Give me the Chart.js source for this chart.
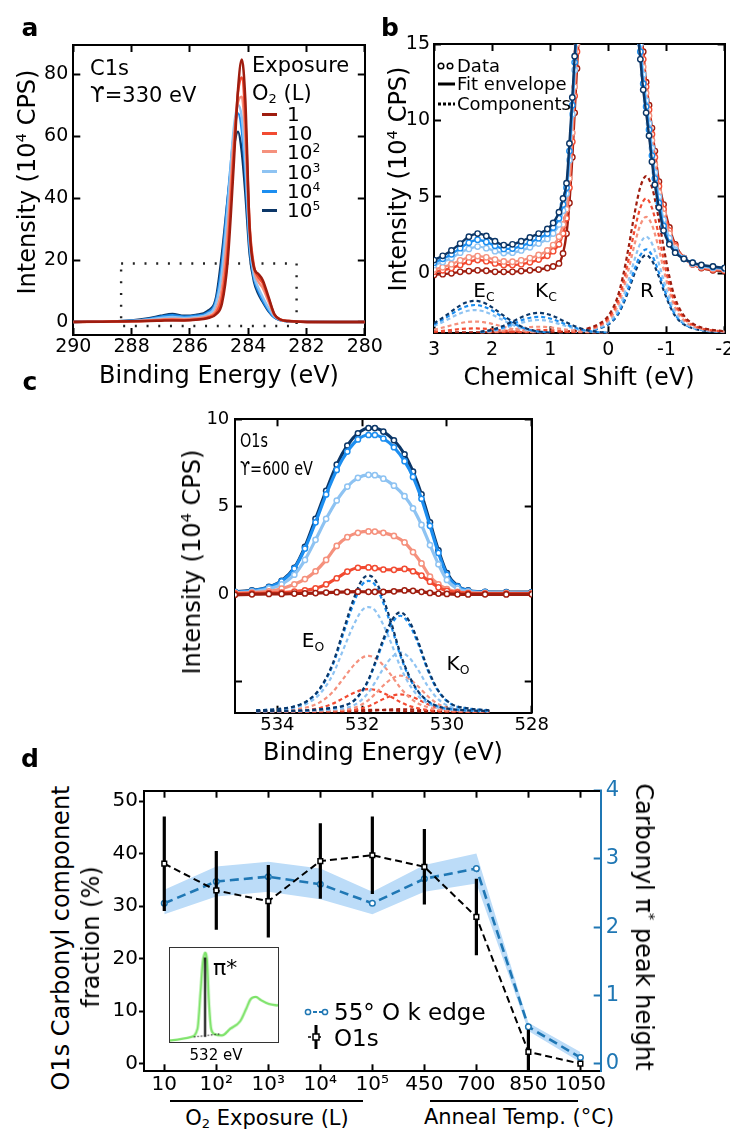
<!DOCTYPE html>
<html><head><meta charset="utf-8">
<script src="https://cdn.jsdelivr.net/npm/chart.js@4.4.1/dist/chart.umd.min.js"></script>
<style>
html,body{margin:0;padding:0;background:#fff;}
#root{position:relative;width:730px;height:1131px;overflow:hidden;font-family:'DejaVu Sans',sans-serif;color:#000;background:#fff;}
canvas{position:absolute;}
.t{position:absolute;white-space:nowrap;line-height:1;}
.c{transform:translate(-50%,-50%);}
.l{transform:translate(0,-50%);}
.rl{transform:translate(-50%,-50%) rotate(-90deg);}
.rr{transform:translate(-50%,-50%) rotate(90deg);}
.pl{font-weight:bold;font-size:25px;}
.ax{font-size:24px;}
sup{font-size:0.62em;vertical-align:0.6em;line-height:0;}
sub{font-size:0.62em;vertical-align:-0.3em;line-height:0;}
.ln{position:absolute;height:0;}
</style></head>
<body><div id="root">
<canvas id="ca" width="390" height="390" style="left:0;top:0"></canvas>
<canvas id="cb" width="360" height="390" style="left:370px;top:0"></canvas>
<canvas id="cc" width="400" height="350" style="left:150px;top:390px"></canvas>
<canvas id="cd" width="560" height="330" style="left:100px;top:770px"></canvas>
<canvas id="ci" width="110" height="96" style="left:169px;top:947px;border:1.5px solid #333"></canvas>

<!-- panel a text -->
<div class="t c pl" style="left:30px;top:27px">a</div>
<div class="t rl ax" style="left:27px;top:182px">Intensity (10<sup>4</sup> CPS)</div>
<div class="t c ax" style="left:219px;top:375px">Binding Energy (eV)</div>
<div class="t l" style="left:90px;top:68px;font-size:21px">C1s</div>
<div class="t l" style="left:90px;top:95px;font-size:21px">ϒ=330 eV</div>
<div class="t l" style="left:252px;top:65px;font-size:21px">Exposure</div>
<div class="t l" style="left:252px;top:93px;font-size:21px">O<sub>2</sub> (L)</div>
<div id="aleg"></div>

<!-- panel b text -->
<div class="t c pl" style="left:390px;top:27px">b</div>
<div class="t rl ax" style="left:398px;top:179px">Intensity (10<sup>4</sup> CPS)</div>
<div class="t c ax" style="left:579px;top:377px">Chemical Shift (eV)</div>
<svg style="position:absolute;left:436px;top:58px" width="22" height="54">
<circle cx="5" cy="8" r="2.8" fill="#fff" stroke="#000" stroke-width="1.5"/>
<circle cx="14" cy="8" r="2.8" fill="#fff" stroke="#000" stroke-width="1.5"/>
<line x1="2" y1="26" x2="19" y2="26" stroke="#000" stroke-width="3"/>
<line x1="2" y1="46" x2="19" y2="46" stroke="#000" stroke-width="3" stroke-dasharray="3,2"/>
</svg>
<div class="t l" style="left:457px;top:66px;font-size:18px">Data</div>
<div class="t l" style="left:457px;top:84px;font-size:18px">Fit envelope</div>
<div class="t l" style="left:457px;top:104px;font-size:18px">Components</div>
<div class="t c" style="left:484px;top:290px;font-size:20px">E<sub>C</sub></div>
<div class="t c" style="left:546px;top:290px;font-size:20px">K<sub>C</sub></div>
<div class="t c" style="left:647px;top:290px;font-size:20px">R</div>

<!-- panel c text -->
<div class="t c pl" style="left:30px;top:381px">c</div>
<div class="t rl ax" style="left:192px;top:562px">Intensity (10<sup>4</sup> CPS)</div>
<div class="t c ax" style="left:383px;top:752px">Binding Energy (eV)</div>
<div class="t" style="left:240px;top:430px;font-size:20px;transform:scaleX(0.72);transform-origin:left top">O1s</div>
<div class="t" style="left:240px;top:458px;font-size:20px;transform:scaleX(0.72);transform-origin:left top">ϒ=600 eV</div>
<div class="t c" style="left:313px;top:640px;font-size:20px">E<sub>O</sub></div>
<div class="t c" style="left:458px;top:663px;font-size:20px">K<sub>O</sub></div>

<!-- panel d text -->
<div class="t c pl" style="left:30px;top:758px">d</div>
<div class="t rl ax" style="left:61px;top:938px">O1s Carbonyl component</div>
<div class="t rl ax" style="left:91px;top:937px">fraction (%)</div>
<div class="t rr ax" style="left:644px;top:927px">Carbonyl π<sup>*</sup> peak height</div>
<svg style="position:absolute;left:302px;top:998px" width="30" height="54">
<line x1="5" y1="14" x2="24" y2="14" stroke="#1f77b4" stroke-width="2" stroke-dasharray="4,2"/>
<circle cx="6" cy="14" r="2.6" fill="#fff" stroke="#1f77b4" stroke-width="1.5"/>
<circle cx="23" cy="14" r="2.6" fill="#fff" stroke="#1f77b4" stroke-width="1.5"/>
<line x1="6" y1="39" x2="20" y2="39" stroke="#000" stroke-width="1.6" stroke-dasharray="3,2"/>
<line x1="14" y1="27" x2="14" y2="51" stroke="#000" stroke-width="3"/>
<rect x="11" y="36" width="6" height="6" fill="#fff" stroke="#000" stroke-width="1.5"/>
</svg>
<div class="t l" style="left:334px;top:1012px;font-size:23px">55° O k edge</div>
<div class="t l" style="left:334px;top:1038px;font-size:23px">O1s</div>
<div class="ln" style="left:170px;top:1100px;width:193px;border-top:2px solid #000"></div>
<div class="ln" style="left:430px;top:1100px;width:148px;border-top:2px solid #000"></div>
<div class="t c" style="left:267px;top:1118px;font-size:21px">O<sub>2</sub> Exposure (L)</div>
<div class="t c" style="left:519px;top:1117px;font-size:21px">Anneal Temp. (°C)</div>
<div class="t l" style="left:213px;top:968px;font-size:22px">π*</div>
<div class="t c" style="left:216px;top:1055px;font-size:15px">532 eV</div>

<script>
// ---------------- DATA ----------------
// Panel a: C1s spectra (binding energy eV, intensity 1e4 CPS)
const aX    = [290, 289, 288, 287.4, 287, 286.6, 286.2, 285.8, 285.4, 285.1, 284.9, 284.7, 284.5, 284.35, 284.22, 284.1, 283.95, 283.8, 283.65, 283.5, 283.3, 283.1, 282.9, 282.6, 282.2, 281, 280];
const aE1   = [0, 0.1, 0.2, 0.3, 0.4, 0.5, 0.5, 0.7, 1.2, 2.5, 6, 20, 50, 75, 84.7, 72, 30, 17.5, 15.5, 13.5, 8, 2.5, 0.8, 0.3, 0.1, 0, 0];
const aE10  = [0, 0.1, 0.2, 0.4, 0.6, 0.7, 0.6, 0.8, 1.4, 3, 8, 24, 54, 74, 78.9, 66, 31, 18, 14.5, 12.5, 7.5, 2.4, 0.8, 0.3, 0.1, 0, 0];
const aE1e2 = [0, 0.1, 0.25, 0.5, 0.8, 1.0, 0.9, 1.1, 1.8, 4, 11, 30, 58, 71, 72.7, 60, 30, 17, 13, 11, 6.5, 2.2, 0.8, 0.3, 0.1, 0, 0];
const aE1e3 = [0, 0.15, 0.3, 0.8, 1.3, 1.6, 1.3, 1.6, 2.5, 6, 16, 37, 62, 70, 66, 52, 26, 15, 11, 8, 4.5, 1.8, 0.7, 0.25, 0.1, 0, 0];
const aE1e4 = [0, 0.2, 0.4, 1.0, 1.7, 2.2, 1.7, 2.0, 3.0, 7, 19, 40, 60, 67.3, 62, 48, 24, 14, 10, 7, 3.8, 1.5, 0.6, 0.2, 0.1, 0, 0];
const aE1e5 = [0, 0.2, 0.5, 1.2, 2.0, 2.6, 2.0, 2.3, 3.5, 8, 22, 40, 56, 61.4, 55, 42, 22, 13, 9, 6.5, 3.5, 1.5, 0.6, 0.2, 0.1, 0, 0];
const aBoxX = [288.36, 282.34, 282.34, 288.36, 288.36];
const aBoxY = [18.9, 18.9, -1.3, -1.3, 18.9];
const exposureLabels = ['1', '10', '10<sup>2</sup>', '10<sup>3</sup>', '10<sup>4</sup>', '10<sup>5</sup>'];

// Panel b: chemical shift spectra (fit envelope + data)
const bX    = [3.0, 2.85, 2.7, 2.55, 2.4, 2.25, 2.1, 1.95, 1.8, 1.65, 1.5, 1.35, 1.2, 1.05, 0.95, 0.85, 0.78, 0.72, 0.67, 0.62, 0.58, 0.54, 0.5, 0.3, 0.0, -0.3, -0.45, -0.5, -0.55, -0.6, -0.65, -0.7, -0.75, -0.8, -0.87, -0.95, -1.05, -1.15, -1.3, -1.45, -1.6, -1.8, -2.0];
const bE1   = [-0.1, -0.05, 0.0, 0.1, 0.15, 0.2, 0.17, 0.1, 0.1, 0.1, 0.15, 0.2, 0.25, 0.35, 0.45, 0.65, 1.3, 2.6, 4.6, 7.6, 10.5, 13.4, 16.5, 45, 80, 45, 22, 19, 16.5, 14.5, 12.5, 11.0, 9.5, 8.0, 6.0, 4.5, 3.0, 1.9, 1.0, 0.6, 0.35, 0.2, 0.15];
const bE10  = [0.1, 0.2, 0.35, 0.55, 0.75, 0.87, 0.8, 0.65, 0.55, 0.54, 0.6, 0.72, 0.9, 1.15, 1.45, 1.9, 2.6, 3.6, 5.6, 8.6, 11.6, 14.5, 17.5, 45, 80, 45, 21, 18, 16, 14, 12.2, 10.7, 9.1, 7.6, 5.7, 4.2, 2.8, 1.8, 1.0, 0.6, 0.38, 0.25, 0.2];
const bE1e2 = [0.26, 0.4, 0.6, 0.85, 1.05, 1.13, 1.05, 0.9, 0.78, 0.76, 0.85, 1.0, 1.2, 1.5, 1.85, 2.4, 3.2, 4.2, 6.2, 9.2, 12.2, 15.0, 18, 45, 80, 45, 20.5, 17.5, 15.5, 13.5, 11.8, 10.3, 8.7, 7.1, 5.3, 3.9, 2.6, 1.7, 0.98, 0.62, 0.42, 0.3, 0.24];
const bE1e3 = [0.54, 0.75, 1.0, 1.35, 1.6, 1.75, 1.65, 1.45, 1.33, 1.35, 1.5, 1.7, 1.95, 2.25, 2.6, 3.2, 4.1, 5.2, 7.4, 10.4, 13.3, 15.8, 18.5, 45, 80, 45, 20, 17, 15, 13, 11.3, 9.8, 8.2, 6.6, 5.0, 3.5, 2.3, 1.55, 0.98, 0.66, 0.48, 0.37, 0.3];
const bE1e4 = [0.7, 0.95, 1.25, 1.65, 2.0, 2.2, 2.05, 1.8, 1.6, 1.62, 1.8, 2.0, 2.3, 2.6, 3.0, 3.6, 4.5, 5.6, 8.0, 11.0, 13.8, 16.2, 19, 45, 80, 45, 19.5, 16.5, 14.5, 12.4, 10.9, 9.4, 7.7, 6.2, 4.6, 3.1, 2.0, 1.4, 0.95, 0.68, 0.52, 0.42, 0.33];
const bE1e5 = [0.87, 1.15, 1.5, 1.95, 2.4, 2.6, 2.45, 2.1, 1.85, 1.9, 2.1, 2.35, 2.6, 2.9, 3.3, 4.0, 4.9, 5.9, 8.5, 11.5, 14.2, 16.5, 19, 45, 80, 45, 19, 16, 14, 12, 10.5, 9.0, 7.3, 5.8, 4.3, 2.8, 1.9, 1.35, 0.95, 0.7, 0.55, 0.45, 0.35];
// Panel b components (offset below the spectra)
const bEcX    = [3, 2.8, 2.6, 2.45, 2.3, 2.15, 2.0, 1.8, 1.6, 1.4, 1.2, 1.0];
const bEc1    = [-3.88, -3.87, -3.86, -3.85, -3.85, -3.85, -3.86, -3.87, -3.88, -3.89, -3.9, -3.9];
const bEc10   = [-3.81, -3.74, -3.66, -3.62, -3.60, -3.62, -3.66, -3.74, -3.81, -3.86, -3.88, -3.9];
const bEc1e2  = [-3.68, -3.50, -3.30, -3.19, -3.15, -3.19, -3.30, -3.50, -3.68, -3.80, -3.86, -3.89];
const bEc1e3  = [-3.45, -3.09, -2.70, -2.48, -2.40, -2.48, -2.70, -3.09, -3.45, -3.70, -3.83, -3.88];
const bEc1e4  = [-3.35, -2.91, -2.43, -2.17, -2.07, -2.17, -2.43, -2.91, -3.35, -3.65, -3.81, -3.87];
const bEc1e5  = [-3.27, -2.77, -2.22, -1.91, -1.80, -1.91, -2.22, -2.77, -3.27, -3.62, -3.80, -3.87];
const bKcX    = [2.2, 2.0, 1.8, 1.6, 1.45, 1.3, 1.2, 1.1, 0.95, 0.8, 0.6, 0.4, 0.2, 0.0];
const bKc1    = [-3.9, -3.89, -3.88, -3.87, -3.86, -3.85, -3.85, -3.85, -3.86, -3.87, -3.88, -3.89, -3.9, -3.9];
const bKc10   = [-3.89, -3.87, -3.83, -3.77, -3.73, -3.71, -3.70, -3.71, -3.73, -3.77, -3.83, -3.87, -3.89, -3.9];
const bKc1e2  = [-3.88, -3.83, -3.75, -3.64, -3.56, -3.50, -3.49, -3.50, -3.56, -3.64, -3.75, -3.83, -3.88, -3.89];
const bKc1e3  = [-3.85, -3.76, -3.59, -3.36, -3.19, -3.07, -3.05, -3.07, -3.19, -3.36, -3.59, -3.76, -3.85, -3.89];
const bKc1e4  = [-3.84, -3.73, -3.52, -3.23, -3.01, -2.87, -2.84, -2.87, -3.01, -3.23, -3.52, -3.73, -3.84, -3.88];
const bKc1e5  = [-3.82, -3.68, -3.42, -3.06, -2.79, -2.62, -2.58, -2.62, -2.79, -3.06, -3.42, -3.68, -3.82, -3.88];
const bRX     = [0.85, 0.65, 0.35, 0.15, 0.0, -0.15, -0.25, -0.35, -0.45, -0.55, -0.65, -0.75, -0.85, -0.95, -1.05, -1.15, -1.3, -1.45, -1.65, -2.0];
const bR1     = [-3.84, -3.78, -3.59, -3.28, -2.77, -1.64, -0.21, 1.74, 3.90, 5.64, 6.36, 5.64, 3.90, 1.74, -0.21, -1.64, -2.77, -3.28, -3.59, -3.80];
const bR10    = [-3.85, -3.79, -3.64, -3.37, -2.93, -1.96, -0.73, 0.94, 2.79, 4.28, 4.90, 4.28, 2.79, 0.94, -0.73, -1.96, -2.93, -3.37, -3.64, -3.81];
const bR1e2   = [-3.85, -3.81, -3.67, -3.44, -3.06, -2.23, -1.16, 0.28, 1.88, 3.17, 3.70, 3.17, 1.88, 0.28, -1.16, -2.23, -3.06, -3.44, -3.67, -3.82];
const bR1e3   = [-3.86, -3.82, -3.71, -3.52, -3.21, -2.51, -1.63, -0.43, 0.89, 1.96, 2.40, 1.96, 0.89, -0.43, -1.63, -2.51, -3.21, -3.52, -3.71, -3.84];
const bR1e4   = [-3.87, -3.83, -3.74, -3.57, -3.30, -2.70, -1.93, -0.89, 0.26, 1.19, 1.57, 1.19, 0.26, -0.89, -1.93, -2.70, -3.30, -3.57, -3.74, -3.85];
const bR1e5   = [-3.87, -3.84, -3.75, -3.59, -3.34, -2.78, -2.06, -1.09, -0.02, 0.84, 1.20, 0.84, -0.02, -1.09, -2.06, -2.78, -3.34, -3.59, -3.75, -3.85];

// Panel c: O1s spectra
const cX    = [535, 534.6, 534.2, 533.9, 533.6, 533.35, 533.1, 532.85, 532.6, 532.35, 532.1, 531.85, 531.7, 531.5, 531.25, 531.0, 530.8, 530.6, 530.4, 530.2, 530.0, 529.75, 529.5, 529.1, 528.6, 528];
const cE1   = [-0.05, -0.02, 0.0, 0.0, 0.02, 0.03, 0.05, 0.08, 0.1, 0.12, 0.13, 0.12, 0.12, 0.12, 0.15, 0.2, 0.18, 0.12, 0.06, 0.02, 0.0, -0.02, -0.03, -0.02, -0.03, -0.02];
const cE10  = [0.02, 0.03, 0.05, 0.08, 0.13, 0.2, 0.32, 0.55, 0.9, 1.28, 1.5, 1.52, 1.48, 1.4, 1.38, 1.43, 1.3, 1.05, 0.7, 0.38, 0.18, 0.08, 0.04, 0.02, 0.02, 0.02];
const cE1e2 = [0.05, 0.08, 0.15, 0.3, 0.55, 0.85, 1.3, 1.95, 2.75, 3.25, 3.5, 3.58, 3.57, 3.5, 3.32, 2.95, 2.4, 1.75, 1.0, 0.55, 0.28, 0.12, 0.06, 0.04, 0.03, 0.03];
const cE1e3 = [0.08, 0.14, 0.3, 0.55, 1.1, 1.95, 3.1, 4.3, 5.35, 6.15, 6.65, 6.82, 6.8, 6.6, 6.2, 5.6, 4.9, 3.95, 2.8, 1.7, 0.8, 0.3, 0.14, 0.08, 0.06, 0.05];
const cE1e4 = [0.1, 0.18, 0.38, 0.72, 1.45, 2.6, 4.1, 5.7, 7.1, 8.15, 8.85, 9.1, 9.1, 8.9, 8.4, 7.6, 6.7, 5.45, 3.9, 2.35, 1.1, 0.42, 0.18, 0.1, 0.08, 0.08];
const cE1e5 = [0.12, 0.2, 0.4, 0.75, 1.5, 2.7, 4.3, 5.9, 7.4, 8.5, 9.2, 9.5, 9.5, 9.3, 8.8, 8.0, 7.0, 5.7, 4.1, 2.5, 1.2, 0.45, 0.2, 0.12, 0.1, 0.1];
// Panel c components
const cCompX = [534.5, 534.0, 533.6, 533.3, 533.0, 532.7, 532.45, 532.2, 532.0, 531.85, 531.7, 531.5, 531.3, 531.1, 530.9, 530.7, 530.45, 530.2, 529.9, 529.5, 529.0];
const cEo1   = [-6.75, -6.75, -6.75, -6.74, -6.73, -6.71, -6.68, -6.65, -6.63, -6.63, -6.63, -6.65, -6.67, -6.7, -6.72, -6.73, -6.74, -6.75, -6.75, -6.75, -6.75];
const cEo10  = [-6.74, -6.72, -6.7, -6.65, -6.53, -6.29, -5.98, -5.67, -5.49, -5.45, -5.49, -5.67, -5.92, -6.19, -6.4, -6.54, -6.65, -6.7, -6.72, -6.74, -6.74];
const cEo1e2 = [-6.72, -6.69, -6.62, -6.49, -6.21, -5.63, -4.86, -4.09, -3.65, -3.55, -3.65, -4.09, -4.70, -5.37, -5.89, -6.24, -6.49, -6.62, -6.69, -6.72, -6.73];
const cEo1e3 = [-6.69, -6.63, -6.51, -6.27, -5.73, -4.65, -3.21, -1.77, -0.93, -0.75, -0.93, -1.77, -2.91, -4.17, -5.13, -5.79, -6.27, -6.51, -6.63, -6.69, -6.72];
const cEo1e4 = [-6.67, -6.6, -6.45, -6.15, -5.47, -4.12, -2.32, -0.52, 0.53, 0.75, 0.53, -0.52, -1.95, -3.52, -4.72, -5.55, -6.15, -6.45, -6.6, -6.67, -6.71];
const cEo1e5 = [-6.67, -6.59, -6.44, -6.13, -5.42, -4.02, -2.15, -0.28, 0.82, 1.05, 0.82, -0.28, -1.76, -3.40, -4.64, -5.50, -6.13, -6.44, -6.59, -6.67, -6.71];
const cKo1   = [-6.75, -6.75, -6.75, -6.75, -6.75, -6.74, -6.74, -6.73, -6.72, -6.70, -6.68, -6.64, -6.61, -6.6, -6.61, -6.64, -6.69, -6.72, -6.74, -6.75, -6.75];
const cKo10  = [-6.745, -6.74, -6.74, -6.735, -6.725, -6.71, -6.69, -6.64, -6.54, -6.43, -6.26, -6.02, -5.83, -5.75, -5.83, -6.02, -6.32, -6.54, -6.67, -6.72, -6.735];
const cKo1e2 = [-6.74, -6.73, -6.73, -6.72, -6.70, -6.67, -6.63, -6.52, -6.32, -6.08, -5.74, -5.24, -4.85, -4.68, -4.85, -5.24, -5.86, -6.32, -6.58, -6.68, -6.72];
const cKo1e3 = [-6.73, -6.72, -6.72, -6.70, -6.66, -6.61, -6.55, -6.38, -6.04, -5.64, -5.08, -4.27, -3.62, -3.35, -3.62, -4.27, -5.29, -6.04, -6.48, -6.63, -6.70];
const cKo1e4 = [-6.72, -6.71, -6.69, -6.67, -6.61, -6.53, -6.42, -6.14, -5.59, -4.96, -4.05, -2.73, -1.69, -1.25, -1.69, -2.73, -4.38, -5.59, -6.31, -6.56, -6.67];
const cKo1e5 = [-6.72, -6.70, -6.69, -6.66, -6.61, -6.52, -6.41, -6.12, -5.55, -4.90, -3.96, -2.59, -1.51, -1.05, -1.51, -2.59, -4.30, -5.55, -6.29, -6.55, -6.66];

// Panel d
const dLabels  = ['10', '10²', '10³', '10⁴', '10⁵', '450', '700', '850', '1050'];
const dO1s     = [38.1, 33.0, 30.95, 38.6, 39.7, 37.5, 27.95, 2.25, 0.0];
const dO1sErr  = [9.0, 7.5, 6.9, 7.2, 7.4, 7.2, 7.3, 4.2, 0.5];
const dOk      = [2.35, 2.67, 2.74, 2.63, 2.35, 2.71, 2.86, 0.54, 0.09];
const dOkLow   = [2.19, 2.45, 2.52, 2.41, 2.19, 2.52, 2.64, 0.48, 0.02];
const dOkHigh  = [2.55, 2.89, 2.96, 2.86, 2.52, 2.91, 3.08, 0.60, 0.17];
// Inset NEXAFS spectrum
const inX  = [526.0, 529.6, 530.7, 531.25, 531.6, 532.0, 532.35, 532.65, 533.05, 533.6, 534.9, 536.3, 538.0, 538.95, 539.8, 540.7, 541.6, 542.95, 544.5];
const inY  = [0.016, 0.054, 0.14, 0.55, 0.84, 0.95, 0.86, 0.45, 0.14, 0.085, 0.07, 0.14, 0.22, 0.34, 0.455, 0.48, 0.445, 0.405, 0.39];
const inPiX = [532, 532];
const inPiY = [0.054, 0.9];
const inBaseX = [530.1, 534.6];
const inBaseY = [0.054, 0.085];

// ---------------- STYLE ----------------
const F = 'DejaVu Sans';
const COLS = ['#9f1d0f', '#f24b32', '#f5917d', '#8ec3f2', '#1c8ef0', '#0c3768'];
const BLUE = '#1f77b4';

// legend of panel a
(function(){
  const ys = [114.3, 133.3, 151.7, 171.7, 191, 210];
  let h = '';
  exposureLabels.forEach((lab, i) => {
    h += '<div class="ln" style="left:262px;top:' + (ys[i]-1.5) + 'px;width:15px;border-top:3px solid ' + COLS[i] + '"></div>';
    h += '<div class="t l" style="left:287px;top:' + ys[i] + 'px;font-size:20px">' + lab + '</div>';
  });
  document.getElementById('aleg').innerHTML = h;
})();

function fit(size){
  return function(s){
    if (s.isHorizontal()) s.height = size; else s.width = size;
    s.paddingLeft = 0; s.paddingRight = 0; s.paddingTop = 0; s.paddingBottom = 0;
  };
}
function ax(o){
  return {
    type: 'linear', position: o.pos, min: o.min, max: o.max, reverse: !!o.rev,
    afterFit: fit(o.size),
    ticks: { display: o.labels !== false, stepSize: o.step, includeBounds: false, autoSkip: false,
      maxRotation: 0, minRotation: 0, font: { family: F, size: o.fs || 19 }, color: o.color || '#000',
      padding: o.pad || 0, callback: o.cb || (v => String(v)) },
    grid: { display: true, drawOnChartArea: false, drawTicks: true, tickLength: (o.tl == null ? -7 : o.tl),
      tickWidth: 2, tickColor: o.tc || '#000' },
    border: { display: true, color: o.bc || '#000', width: 2 }
  };
}
function pts(xs, ys){ return xs.map((x, i) => ({ x: x, y: ys[i] })); }
function line(xs, ys, color, extra){
  return Object.assign({ data: pts(xs, ys), borderColor: color, borderWidth: 2.5, pointRadius: 0,
    fill: false, cubicInterpolationMode: 'monotone' }, extra || {});
}
function mk(id, datasets, scales, pad){
  return new Chart(document.getElementById(id), {
    type: 'line', data: { datasets: datasets },
    options: { responsive: false, animation: false, devicePixelRatio: 1, events: [],
      layout: { padding: pad },
      plugins: { legend: { display: false }, tooltip: { enabled: false } },
      scales: scales }
  });
}

// ---------------- PANEL A ----------------
{
  const ser = [aE1, aE10, aE1e2, aE1e3, aE1e4, aE1e5];
  const ds = ser.map((s, i) => line(aX, s, COLS[i], { borderWidth: 2.5 }));
  ds.push(line(aBoxX, aBoxY, '#222', { borderWidth: 2.4, borderDash: [2, 9.7], cubicInterpolationMode: 'default', tension: 0 }));
  mk('ca', ds, {
    x:  ax({ pos: 'bottom', min: 280, max: 290, rev: true, step: 2, size: 55, pad: 8 }),
    x2: ax({ pos: 'top', min: 280, max: 290, rev: true, step: 2, size: 0, labels: false }),
    y:  ax({ pos: 'left', min: -4.2, max: 89.4, step: 20, size: 73.3, pad: 12 }),
    y2: ax({ pos: 'right', min: -4.2, max: 89.4, step: 20, size: 0, labels: false })
  }, { left: 0, top: 45, right: 25.2, bottom: 0 });
}

// ---------------- PANEL B ----------------
{
  const ser = [bE1, bE10, bE1e2, bE1e3, bE1e4, bE1e5];
  const ec = [bEc1, bEc10, bEc1e2, bEc1e3, bEc1e4, bEc1e5];
  const kc = [bKc1, bKc10, bKc1e2, bKc1e3, bKc1e4, bKc1e5];
  const rr = [bR1, bR10, bR1e2, bR1e3, bR1e4, bR1e5];
  const ds = [];
  for (let i = 5; i >= 0; i--) {
    ds.push(line(bX, ser[i], COLS[i], { borderWidth: 2.4, pointRadius: 2.7, pointBorderWidth: 1.4,
      pointBackgroundColor: '#fff', pointBorderColor: COLS[i] }));
  }
  const dash = { borderWidth: 2.2, borderDash: [4, 3] };
  for (let i = 5; i >= 0; i--) {
    ds.push(line(bEcX, ec[i], COLS[i], dash));
    ds.push(line(bKcX, kc[i], COLS[i], dash));
  }
  for (let i = 0; i < 6; i++) ds.push(line(bRX, rr[i], COLS[i], dash));
  mk('cb', ds, {
    x:  ax({ pos: 'bottom', min: -2, max: 3, rev: true, step: 1, size: 56.7, pad: 12 }),
    x2: ax({ pos: 'top', min: -2, max: 3, rev: true, step: 1, size: 0, labels: false }),
    y:  ax({ pos: 'left', min: -3.92, max: 15, step: 5, size: 64, pad: 11 }),
    y2: ax({ pos: 'right', min: -3.92, max: 15, step: 5, size: 0, labels: false })
  }, { left: 0, top: 44, right: 1.7, bottom: 0 });
}

// ---------------- PANEL C ----------------
{
  const ser = [cE1, cE10, cE1e2, cE1e3, cE1e4, cE1e5];
  const eo = [cEo1, cEo10, cEo1e2, cEo1e3, cEo1e4, cEo1e5];
  const ko = [cKo1, cKo10, cKo1e2, cKo1e3, cKo1e4, cKo1e5];
  const ds = [];
  for (let i = 0; i < 6; i++) {
    ds.push(line(cX, ser[i], COLS[i], { borderWidth: 3.2, pointRadius: 2.6, pointBorderWidth: 1.5,
      pointBackgroundColor: '#fff', pointBorderColor: COLS[i] }));
  }
  const dash = { borderWidth: 2.2, borderDash: [4, 3] };
  for (let i = 5; i >= 0; i--) {
    ds.push(line(cCompX, eo[i], COLS[i], dash));
    ds.push(line(cCompX, ko[i], COLS[i], dash));
  }
  mk('cc', ds, {
    x:  ax({ pos: 'bottom', min: 528, max: 535, rev: true, step: 2, size: 27.3, pad: 8.5, fs: 18 }),
    x2: ax({ pos: 'top', min: 528, max: 535, rev: true, step: 2, size: 0, labels: false }),
    y:  ax({ pos: 'left', min: -6.8, max: 10, step: 5, size: 85, pad: 12.7, fs: 18, cb: v => (v < 0 ? '' : String(v)) }),
    y2: ax({ pos: 'right', min: -6.8, max: 10, step: 5, size: 0, labels: false })
  }, { left: 0, top: 29.3, right: 18.3, bottom: 0 });
}

// ---------------- PANEL D ----------------
{
  const errPts = [];
  dO1s.forEach((v, i) => {
    errPts.push({ x: i, y: v - dO1sErr[i] }, { x: i, y: v + dO1sErr[i] }, { x: i, y: null });
  });
  const idx = dO1s.map((v, i) => i);
  const ds = [
    { data: errPts, borderColor: '#000', borderWidth: 3.2, pointRadius: 0, spanGaps: false, yAxisID: 'y', order: 1, tension: 0 },
    { data: pts(idx, dO1s), borderColor: '#000', borderWidth: 2, borderDash: [7, 4], pointStyle: 'rect', pointRadius: 3.3,
      pointBackgroundColor: '#fff', pointBorderColor: '#000', pointBorderWidth: 1.5, yAxisID: 'y', order: 0, tension: 0 },
    { data: pts(idx, dOk), borderColor: BLUE, borderWidth: 2.6, borderDash: [9, 5], pointStyle: 'circle', pointRadius: 2.8,
      pointBackgroundColor: '#fff', pointBorderColor: BLUE, pointBorderWidth: 1.5, yAxisID: 'y2', order: 2, tension: 0 },
    { data: pts(idx, dOkLow), borderWidth: 0, borderColor: 'rgba(0,0,0,0)', pointRadius: 0, yAxisID: 'y2', order: 3, fill: false, tension: 0 },
    { data: pts(idx, dOkHigh), borderWidth: 0, borderColor: 'rgba(0,0,0,0)', pointRadius: 0, yAxisID: 'y2', order: 3,
      fill: '-1', backgroundColor: '#bcdcf8', tension: 0 }
  ];
  mk('cd', ds, {
    x:  ax({ pos: 'bottom', min: -0.39, max: 8.39, step: 1, size: 28.7, pad: 8, fs: 20,
             cb: v => (Number.isInteger(v) && dLabels[v] !== undefined ? dLabels[v] : '') }),
    x2: ax({ pos: 'top', min: -0.39, max: 8.39, step: 1, size: 0, labels: false }),
    y:  ax({ pos: 'left', min: -1.45, max: 52, step: 10, size: 44, pad: 1, fs: 20, tl: 5 }),
    y2: ax({ pos: 'right', min: -0.1115, max: 4, step: 1, size: 59.3, pad: 12, fs: 21, color: BLUE, tc: BLUE, bc: BLUE })
  }, { left: 0, top: 20.7, right: 0, bottom: 0 });
}

// ---------------- INSET ----------------
new Chart(document.getElementById('ci'), {
  type: 'line',
  data: { datasets: [
    { data: pts(inPiX, inPiY), borderColor: '#000', borderWidth: 2, pointRadius: 0, tension: 0 },
    { data: pts(inBaseX, inBaseY), borderColor: '#222', borderWidth: 1.2, borderDash: [1.5, 2], pointRadius: 0, tension: 0 },
    { data: pts(inX, inY), borderColor: '#7ee36a', borderWidth: 2.4, pointRadius: 0, cubicInterpolationMode: 'monotone' }
  ]},
  options: { responsive: false, animation: false, devicePixelRatio: 1, events: [],
    layout: { padding: 0 },
    plugins: { legend: { display: false }, tooltip: { enabled: false } },
    scales: { x: { type: 'linear', min: 526, max: 544.5, display: false }, y: { min: 0, max: 1, display: false } } }
});
</script>
</div></body></html>
